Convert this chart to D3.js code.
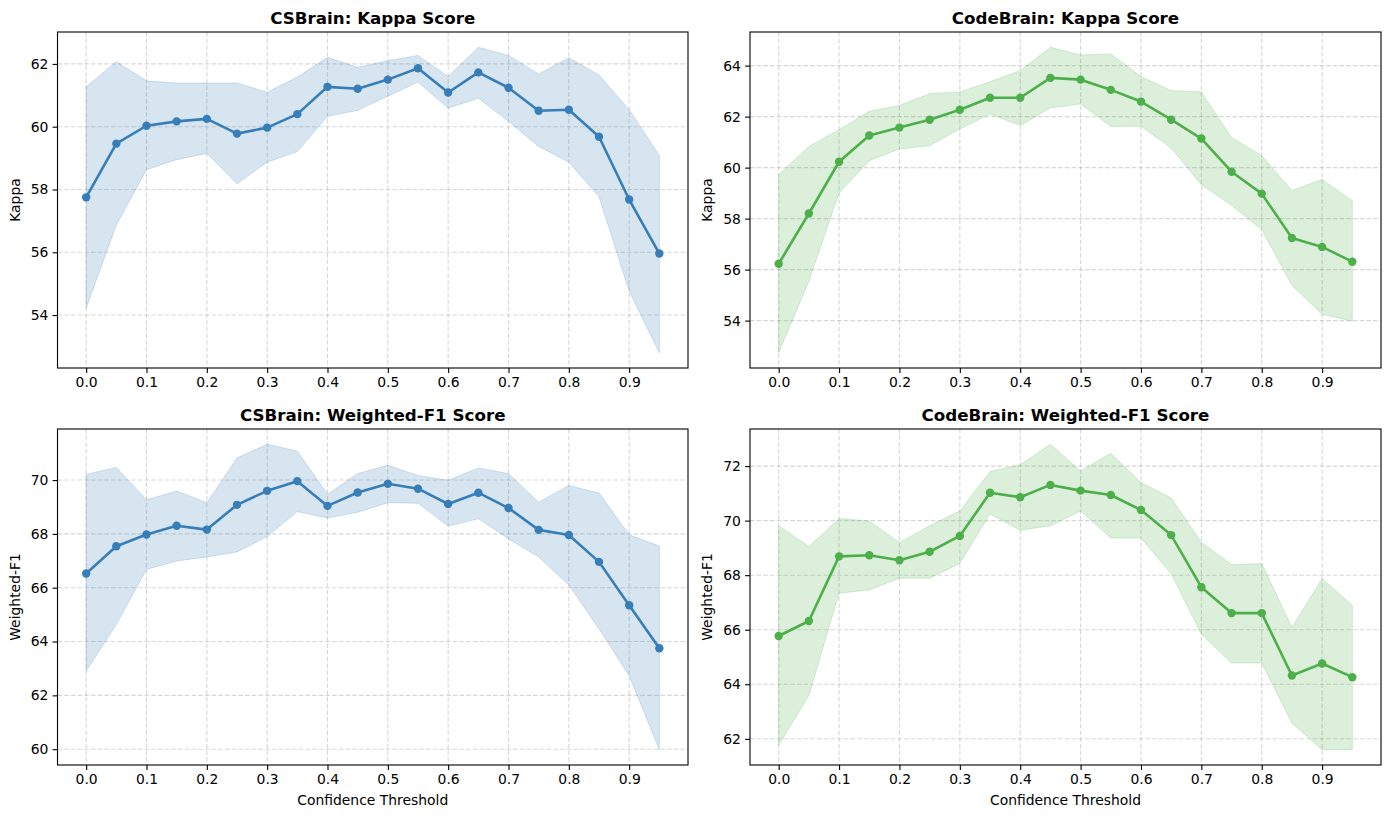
<!DOCTYPE html>
<html>
<head>
<meta charset="utf-8">
<script src="https://cdn.jsdelivr.net/npm/d3@7"></script>
<style>
  body { margin: 0; background: #fff; }
  svg { font-family: "DejaVu Sans", sans-serif; }
</style>
</head>
<body>
<div id="chart"></div>
<script>
const thresholds = [0.0, 0.05, 0.1, 0.15, 0.2, 0.25, 0.3, 0.35, 0.4, 0.45, 0.5, 0.55, 0.6, 0.65, 0.7, 0.75, 0.8, 0.85, 0.9, 0.95]
const xTicks = [0.0, 0.1, 0.2, 0.3, 0.4, 0.5, 0.6, 0.7, 0.8, 0.9]

// CSBrain kappa
const csKappaMean = [57.75, 59.46, 60.03, 60.17, 60.25, 59.78, 59.97, 60.4, 61.27, 61.21, 61.5, 61.86, 61.09, 61.73, 61.24, 60.51, 60.54, 59.68, 57.68, 55.96]
const csKappaLow  = [54.22, 56.87, 58.63, 58.95, 59.15, 58.18, 58.87, 59.21, 60.33, 60.52, 60.97, 61.42, 60.59, 60.91, 60.17, 59.37, 58.87, 57.77, 54.76, 52.8]
const csKappaHigh = [61.27, 62.07, 61.46, 61.39, 61.39, 61.39, 61.1, 61.58, 62.21, 61.89, 62.1, 62.27, 61.6, 62.53, 62.27, 61.68, 62.2, 61.65, 60.54, 59.09]

// CodeBrain kappa
const cbKappaMean = [56.23, 58.2, 60.23, 61.26, 61.57, 61.88, 62.27, 62.74, 62.74, 63.52, 63.45, 63.05, 62.59, 61.88, 61.14, 59.84, 58.98, 57.24, 56.89, 56.31]
const cbKappaLow  = [52.74, 55.54, 59.0, 60.27, 60.73, 60.86, 61.51, 62.1, 61.65, 62.34, 62.5, 61.61, 61.62, 60.77, 59.33, 58.52, 57.57, 55.39, 54.24, 53.98]
const cbKappaHigh = [59.72, 60.83, 61.49, 62.21, 62.44, 62.9, 62.97, 63.37, 63.8, 64.72, 64.42, 64.46, 63.57, 63.02, 62.97, 61.18, 60.47, 59.1, 59.54, 58.7]

// CSBrain weighted-F1
const csF1Mean = [66.53, 67.54, 67.98, 68.3, 68.16, 69.08, 69.6, 69.96, 69.04, 69.54, 69.86, 69.68, 69.11, 69.53, 68.96, 68.15, 67.96, 66.96, 65.35, 63.75]
const csF1Low  = [62.9, 64.63, 66.68, 66.99, 67.14, 67.33, 67.9, 68.83, 68.59, 68.8, 69.16, 69.14, 68.29, 68.56, 67.82, 67.14, 66.1, 64.47, 62.73, 59.98]
const csF1High = [70.21, 70.47, 69.27, 69.59, 69.16, 70.82, 71.33, 71.08, 69.47, 70.24, 70.55, 70.17, 69.99, 70.45, 70.24, 69.18, 69.8, 69.52, 67.97, 67.55]

// CodeBrain weighted-F1
const cbF1Mean = [65.77, 66.32, 68.69, 68.73, 68.55, 68.86, 69.44, 71.02, 70.86, 71.31, 71.1, 70.94, 70.39, 69.47, 67.56, 66.61, 66.61, 64.32, 64.76, 64.26]
const cbF1Low  = [61.76, 63.59, 67.34, 67.46, 67.89, 67.89, 68.43, 70.24, 69.65, 69.81, 70.35, 69.36, 69.36, 68.05, 65.83, 64.78, 64.78, 62.57, 61.6, 61.6]
const cbF1High = [69.81, 69.05, 70.08, 69.99, 69.2, 69.81, 70.36, 71.8, 72.05, 72.8, 71.82, 72.47, 71.4, 70.83, 69.21, 68.39, 68.42, 66.09, 67.87, 66.9]

const blue = "#377eb8"
const green = "#4daf4a"

const panels = [
    {title: "CSBrain: Kappa Score", ylabel: "Kappa", mean: csKappaMean, low: csKappaLow, high: csKappaHigh, color: blue, col: 0, row: 0},
    {title: "CodeBrain: Kappa Score", ylabel: "Kappa", mean: cbKappaMean, low: cbKappaLow, high: cbKappaHigh, color: green, col: 1, row: 0},
    {title: "CSBrain: Weighted-F1 Score", ylabel: "Weighted-F1", mean: csF1Mean, low: csF1Low, high: csF1High, color: blue, col: 0, row: 1},
    {title: "CodeBrain: Weighted-F1 Score", ylabel: "Weighted-F1", mean: cbF1Mean, low: cbF1Low, high: cbF1High, color: green, col: 1, row: 1}
]

const width = 1389, height = 818
const colX = [[57.5, 688], [750, 1381]]
const rowY = [[32, 368], [429, 765]]

const svg = d3.select("#chart").append("svg")
    .attr("width", width)
    .attr("height", height)

panels.forEach(function (p) {
    const [x0, x1] = colX[p.col]
    const [y0, y1] = rowY[p.row]
    const g = svg.append("g")

    const x = d3.scaleLinear().domain([-0.0475, 0.9975]).range([x0, x1])
    const lo = d3.min(p.low), hi = d3.max(p.high)
    const pad = (hi - lo) * 0.05
    const y = d3.scaleLinear().domain([lo - pad, hi + pad]).range([y1, y0])

    const yTicks = d3.range(Math.ceil(lo / 2) * 2, hi + pad, 2)

    // grid
    g.append("g").selectAll("line").data(xTicks).enter().append("line")
        .attr("x1", d => x(d)).attr("x2", d => x(d))
        .attr("y1", y0).attr("y2", y1)
        .attr("stroke", "#b0b0b0").attr("stroke-opacity", 0.5)
        .attr("stroke-width", 1.1).attr("stroke-dasharray", "4.5,2.2")
    g.append("g").selectAll("line").data(yTicks).enter().append("line")
        .attr("x1", x0).attr("x2", x1)
        .attr("y1", d => y(d)).attr("y2", d => y(d))
        .attr("stroke", "#b0b0b0").attr("stroke-opacity", 0.5)
        .attr("stroke-width", 1.1).attr("stroke-dasharray", "4.5,2.2")

    const idx = d3.range(thresholds.length)

    const area = d3.area()
        .x(i => x(thresholds[i]))
        .y0(i => y(p.low[i]))
        .y1(i => y(p.high[i]))
    g.append("path")
        .datum(idx)
        .attr("d", area)
        .attr("fill", p.color)
        .attr("fill-opacity", 0.2)
        .attr("stroke", p.color)
        .attr("stroke-opacity", 0.2)
        .attr("stroke-width", 1)

    const line = d3.line()
        .x(i => x(thresholds[i]))
        .y(i => y(p.mean[i]))
    g.append("path")
        .datum(idx)
        .attr("d", line)
        .attr("fill", "none")
        .attr("stroke", p.color)
        .attr("stroke-width", 2.6)
        .attr("stroke-linejoin", "round")

    g.append("g").selectAll("circle").data(idx).enter().append("circle")
        .attr("cx", i => x(thresholds[i]))
        .attr("cy", i => y(p.mean[i]))
        .attr("r", 4.2)
        .attr("fill", p.color)

    // axes
    const xAxis = d3.axisBottom(x).tickValues(xTicks).tickFormat(d3.format(".1f"))
        .tickSize(4.9).tickPadding(4.2)
    const yAxis = d3.axisLeft(y).tickValues(yTicks).tickFormat(d3.format("d"))
        .tickSize(4.9).tickPadding(4.2)

    const gx = g.append("g").attr("transform", `translate(0,${y1})`).call(xAxis)
    const gy = g.append("g").attr("transform", `translate(${x0},0)`).call(yAxis)
    ;[gx, gy].forEach(function (a) {
        a.select(".domain").remove()
        a.selectAll("line").attr("stroke", "#000").attr("stroke-width", 1.1)
        a.selectAll("text").attr("font-size", 13.9).attr("fill", "#000")
            .attr("font-family", "DejaVu Sans, sans-serif")
    })

    // frame
    g.append("rect")
        .attr("x", x0).attr("y", y0)
        .attr("width", x1 - x0).attr("height", y1 - y0)
        .attr("fill", "none").attr("stroke", "#000").attr("stroke-width", 1.1)

    g.append("text")
        .attr("x", (x0 + x1) / 2)
        .attr("y", y0 - 8.5)
        .attr("text-anchor", "middle")
        .attr("font-size", 16.7)
        .attr("font-weight", "bold")
        .text(p.title)

    g.append("text")
        .attr("transform", `translate(${x0 - 38},${(y0 + y1) / 2}) rotate(-90)`)
        .attr("text-anchor", "middle")
        .attr("font-size", 13.9)
        .text(p.ylabel)

    if (p.row === 1) {
        g.append("text")
            .attr("x", (x0 + x1) / 2)
            .attr("y", y1 + 40)
            .attr("text-anchor", "middle")
            .attr("font-size", 13.9)
            .text("Confidence Threshold")
    }
})
</script>
</body>
</html>
